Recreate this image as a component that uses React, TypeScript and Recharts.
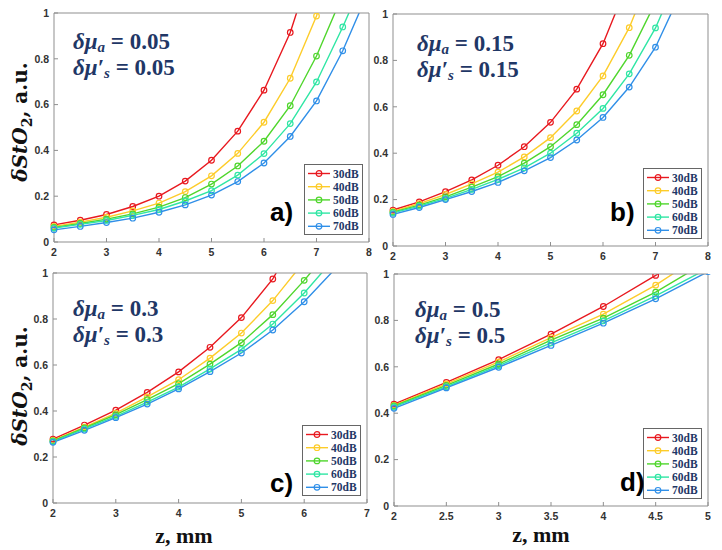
import React from 'react'
import { LineChart, Line, XAxis, YAxis, Legend } from 'recharts'

// dB levels shown in every legend
const DB_LABELS = ['30dB', '40dB', '50dB', '60dB', '70dB']
const DB_COLORS = ['#e8191f', '#fdcc2a', '#4fd62c', '#2fe6a4', '#2f8fe8']

const Y_TICKS = [0, 0.2, 0.4, 0.6, 0.8, 1]

// depth, mm
const Z_AB = [2, 2.5, 3, 3.5, 4, 4.5, 5, 5.5, 6, 6.5, 7, 7.5, 8]
const Z_C = [2, 2.5, 3, 3.5, 4, 4.5, 5, 5.5, 6, 6.5, 7]
const Z_D = [2, 2.5, 3, 3.5, 4, 4.5, 5]

const X_TICKS_AB = [2, 3, 4, 5, 6, 7, 8]
const X_TICKS_C = [2, 3, 4, 5, 6, 7]
const X_TICKS_D = [2, 2.5, 3, 3.5, 4, 4.5, 5]

// a) dmu = 0.05
const A_30 = [0.075, 0.095, 0.12, 0.155, 0.2, 0.266, 0.357, 0.484, 0.663, 0.915, 1.27, null, null]
const A_40 = [0.068, 0.087, 0.108, 0.136, 0.17, 0.22, 0.289, 0.387, 0.523, 0.715, 0.987, 1.35, null]
const A_50 = [0.064, 0.081, 0.1, 0.123, 0.152, 0.194, 0.253, 0.332, 0.44, 0.595, 0.812, 1.08, null]
const A_60 = [0.061, 0.077, 0.094, 0.116, 0.142, 0.179, 0.224, 0.292, 0.386, 0.517, 0.699, 0.939, 1.2]
const A_70 = [0.053, 0.068, 0.085, 0.104, 0.13, 0.162, 0.205, 0.264, 0.345, 0.461, 0.616, 0.835, 1.1]

// b) dmu = 0.15
const B_30 = [0.155, 0.19, 0.234, 0.285, 0.348, 0.428, 0.533, 0.676, 0.872, 1.15, null, null, null]
const B_40 = [0.149, 0.183, 0.222, 0.268, 0.318, 0.384, 0.467, 0.582, 0.733, 0.941, 1.22, null, null]
const B_50 = [0.146, 0.176, 0.212, 0.254, 0.299, 0.357, 0.428, 0.523, 0.652, 0.822, 1.05, null, null]
const B_60 = [0.143, 0.172, 0.205, 0.244, 0.287, 0.337, 0.4, 0.486, 0.593, 0.742, 0.94, 1.2, null]
const B_70 = [0.136, 0.166, 0.2, 0.235, 0.274, 0.324, 0.381, 0.457, 0.554, 0.685, 0.857, 1.1, null]

// c) dmu = 0.3
const C_30 = [0.278, 0.339, 0.404, 0.481, 0.57, 0.677, 0.806, 0.974, 1.22, null, null]
const C_40 = [0.272, 0.33, 0.391, 0.461, 0.536, 0.63, 0.739, 0.88, 1.05, null, null]
const C_50 = [0.27, 0.326, 0.384, 0.449, 0.519, 0.604, 0.697, 0.819, 0.968, 1.13, null]
const C_60 = [0.267, 0.322, 0.377, 0.439, 0.504, 0.583, 0.668, 0.778, 0.913, 1.07, null]
const C_70 = [0.264, 0.316, 0.371, 0.43, 0.496, 0.571, 0.652, 0.752, 0.875, 1.02, null]

// d) dmu = 0.5
const D_30 = [0.439, 0.533, 0.631, 0.741, 0.86, 0.994, 1.14]
const D_40 = [0.434, 0.526, 0.621, 0.726, 0.827, 0.952, 1.1]
const D_50 = [0.431, 0.52, 0.612, 0.715, 0.81, 0.922, 1.056]
const D_60 = [0.427, 0.514, 0.605, 0.703, 0.798, 0.906, 1.024]
const D_70 = [0.421, 0.509, 0.598, 0.692, 0.788, 0.893, 1.01]

const BOX = '#8f8f8f'
const NAVY = '#1f3766'
const MATH_FONT = '"Liberation Serif", serif'

type Plot = { x: number; y: number; w: number; h: number }

function LegendBox({ payload }: { payload?: any[] }) {
  const items = payload || []
  return (
    <svg width={59} height={71} style={{ display: 'block' }}>
      <rect x={0.5} y={0.5} width={58} height={70} fill="#fff" stroke="#666" />
      {items.map((item, i) => {
        const cy = 9.5 + i * 13.2
        return (
          <g key={item.value}>
            <line x1={4} x2={26} y1={cy} y2={cy} stroke={item.color} strokeWidth={1.4} />
            <circle cx={15} cy={cy} r={2.8} fill="none" stroke={item.color} strokeWidth={1.2} />
            <text x={29} y={cy + 4} fontFamily='"Liberation Serif", serif' fontWeight="bold" fontSize={11.5} fill={NAVY}>
              {item.value}
            </text>
          </g>
        )
      })}
    </svg>
  )
}

function Panel({ plot, z, series, xTicks }: { plot: Plot; z: number[]; series: (number | null)[][]; xTicks: number[] }) {
  const data = z.map((v, i) => {
    const row: Record<string, number | null> = { z: v }
    series.forEach((s, k) => {
      row['s' + k] = s[i]
    })
    return row
  })
  const xDomain = [xTicks[0], xTicks[xTicks.length - 1]]
  const tickStyle = { fill: '#333', fontSize: 10.5, fontWeight: 'bold', fontFamily: '"Liberation Sans", Arial, sans-serif' }
  return (
    <div style={{ position: 'absolute', left: plot.x - 55, top: plot.y - 13 }}>
      <LineChart width={plot.w + 58} height={plot.h + 38} data={data} margin={{ top: 12, right: 2, bottom: 0, left: 0 }}>
        <XAxis
          dataKey="z"
          type="number"
          domain={xDomain}
          ticks={xTicks}
          interval={0}
          height={25}
          tickSize={-4}
          tickMargin={11}
          axisLine={{ stroke: BOX }}
          tickLine={{ stroke: BOX }}
          tick={tickStyle}
        />
        <XAxis
          xAxisId="top"
          orientation="top"
          type="number"
          domain={xDomain}
          ticks={xTicks}
          height={1}
          tickSize={-4}
          tick={false}
          axisLine={{ stroke: BOX }}
          tickLine={{ stroke: BOX }}
        />
        <YAxis
          type="number"
          domain={[0, 1]}
          ticks={Y_TICKS}
          allowDataOverflow
          width={55}
          tickSize={-4}
          tickMargin={9}
          axisLine={{ stroke: BOX }}
          tickLine={{ stroke: BOX }}
          tick={tickStyle}
        />
        <YAxis
          yAxisId="right"
          orientation="right"
          type="number"
          domain={[0, 1]}
          ticks={Y_TICKS}
          width={1}
          tickSize={-4}
          tick={false}
          axisLine={{ stroke: BOX }}
          tickLine={{ stroke: BOX }}
        />
        <Legend
          layout="vertical"
          align="center"
          verticalAlign="middle"
          wrapperStyle={{ left: 55 + plot.w - 65, top: 13 + plot.h - 78, width: 59, height: 71 }}
          content={(props: any) => <LegendBox payload={props.payload} />}
        />
        {series.map((_, k) => (
          <Line
            key={k}
            type="linear"
            dataKey={'s' + k}
            name={DB_LABELS[k]}
            stroke={DB_COLORS[k]}
            strokeWidth={1.4}
            dot={{ r: 2.8, fill: 'none', stroke: DB_COLORS[k], strokeWidth: 1.2 }}
            activeDot={false}
            isAnimationActive={false}
          />
        ))}
      </LineChart>
    </div>
  )
}

function Annotation({ x, y, value }: { x: number; y: number; value: string }) {
  return (
    <g fontFamily={MATH_FONT} fontWeight="bold" fontSize={23} fill={NAVY}>
      <text x={x} y={y}>
        <tspan fontStyle="italic">δμ</tspan>
        <tspan fontStyle="italic" fontSize={15} dy={3}>a</tspan>
        <tspan dy={-3}>{' = ' + value}</tspan>
      </text>
      <text x={x} y={y + 26}>
        <tspan fontStyle="italic">δμ′</tspan>
        <tspan fontStyle="italic" fontSize={15} dy={3}>s</tspan>
        <tspan dy={-3}>{' = ' + value}</tspan>
      </text>
    </g>
  )
}

function YTitle({ x, y }: { x: number; y: number }) {
  return (
    <text transform={`translate(${x},${y}) rotate(-90)`} textAnchor="middle" fontFamily='"DejaVu Serif", serif' fontWeight="bold" fontSize={20} fill="#111">
      <tspan fontStyle="italic">δStO</tspan>
      <tspan fontSize={14} dy={5}>2</tspan>
      <tspan dy={-5}>, a.u.</tspan>
    </text>
  )
}

export default function App() {
  return (
    <div style={{ position: 'absolute', left: 0, top: 0, width: 722, height: 550, background: '#fff' }}>
      <Panel plot={{ x: 54, y: 13, w: 315, h: 229 }} z={Z_AB} series={[A_30, A_40, A_50, A_60, A_70]} xTicks={X_TICKS_AB} />
      <Panel plot={{ x: 393, y: 14, w: 315, h: 232 }} z={Z_AB} series={[B_30, B_40, B_50, B_60, B_70]} xTicks={X_TICKS_AB} />
      <Panel plot={{ x: 53, y: 273, w: 314, h: 230 }} z={Z_C} series={[C_30, C_40, C_50, C_60, C_70]} xTicks={X_TICKS_C} />
      <Panel plot={{ x: 394, y: 274, w: 314, h: 232 }} z={Z_D} series={[D_30, D_40, D_50, D_60, D_70]} xTicks={X_TICKS_D} />
      <svg width={722} height={550} style={{ position: 'absolute', left: 0, top: 0, pointerEvents: 'none' }}>
        <Annotation x={73} y={49} value="0.05" />
        <Annotation x={417} y={51} value="0.15" />
        <Annotation x={73} y={316} value="0.3" />
        <Annotation x={415} y={317} value="0.5" />
        <YTitle x={27} y={122} />
        <YTitle x={27} y={386} />
        <g fontFamily='"Liberation Sans", Arial, sans-serif' fontWeight="bold" fontSize={26} fill="#000">
          <text x={270} y={221}>a)</text>
          <text x={610} y={221}>b)</text>
          <text x={270} y={492}>c)</text>
          <text x={620} y={491}>d)</text>
        </g>
        <g fontFamily={MATH_FONT} fontWeight="bold" fontSize={22} fill="#111" textAnchor="middle">
          <text x={184} y={543}>z, mm</text>
          <text x={541} y={542}>z, mm</text>
        </g>
      </svg>
    </div>
  )
}
